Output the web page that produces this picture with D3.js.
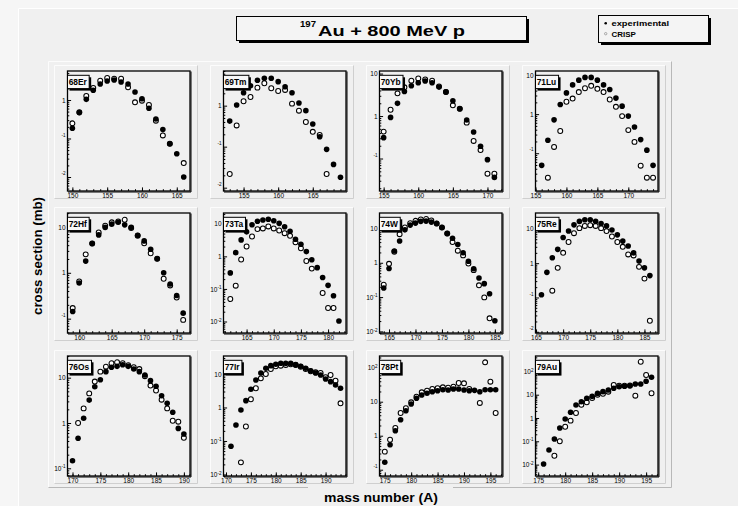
<!DOCTYPE html>
<html>
<head>
<meta charset="utf-8">
<script src="https://cdn.jsdelivr.net/npm/d3@7"></script>
<style>
  body { margin: 0; background: #f0f0f0; }
  svg { display: block; }
  text { font-family: "Liberation Sans", Arial, sans-serif; }
</style>
</head>
<body>
<svg id="chart"></svg>
<script>
var svgWidth = 738;
var svgHeight = 506;

var panelNames = ["68Er", "69Tm", "70Yb", "71Lu", "72Hf", "73Ta", "74W", "75Re", "76Os", "77Ir", "78Pt", "79Au"];

// mass numbers and cross sections (mb): experimental / CRISP
var massEr = [150,151,152,153,154,155,156,157,158,159,160,161,162,163,164,165,166];
var expEr = [0.184,0.47,1.04,1.79,2.6,3.12,3.3,2.94,2.6,1.61,1.08,0.61,0.32,0.17,0.073,0.040,0.010];
var crispEr = [0.248,0.48,1.27,2.05,3.17,3.73,3.57,3.57,2.14,0.87,0.96,0.74,0.29,0.12,0.073,null,0.023];

var massTm = [153,154,155,156,157,158,159,160,161,162,163,164,165,166,167,168,169];
var expTm = [0.42,1.04,2.07,3.07,4.17,4.66,4.66,3.85,2.9,2.07,1.16,0.755,0.358,0.175,0.086,0.037,0.018];
var crispTm = [0.0216,0.33,1.28,1.63,2.75,3.52,2.66,2.28,2.42,1.12,0.755,0.40,0.23,0.193,0.0216,null,null];

var massYb = [155,156,157,158,159,160,161,162,163,164,165,166,167,168,169,170,171];
var expYb = [0.31,0.93,1.99,3.8,5.17,6.1,6.7,6.1,4.8,3.7,2.29,1.49,0.805,0.42,0.194,0.094,0.036];
var crispYb = [0.43,1.41,3.42,4.74,6.8,7.7,7.3,6.8,5.0,3.7,1.79,1.49,0.70,0.26,0.158,0.044,0.044];

var massLu = [156,157,158,159,160,161,162,163,164,165,166,167,168,169,170,171,172,173,174];
var expLu = [0.049,0.215,0.714,1.76,3.5,5.6,7.4,8.7,8.7,7.4,5.6,4.27,2.57,1.6,0.89,0.47,0.223,0.12,0.049];
var crispLu = [null,0.0237,0.145,0.37,2.07,2.5,3.67,4.6,5.3,4.45,3.67,2.37,1.54,0.89,0.39,0.195,0.048,0.0237,0.0237];

var massHf = [159,160,161,162,163,164,165,166,167,168,169,170,171,172,173,174,175,176];
var expHf = [0.143,0.60,1.8,4.34,6.7,9.75,11.5,12.6,11.1,9.75,6.6,4.95,3.25,2.03,1.0,0.57,0.32,0.132];
var crispHf = [0.17,0.65,2.52,4.34,7.57,10.6,12.6,13.2,14.3,9.5,6.4,4.4,2.66,2.03,0.74,0.53,0.29,0.094];

var massTa = [162,163,164,165,166,167,168,169,170,171,172,173,174,175,176,177,178,179,180,181,182];
var expTa = [0.31,1.3,3.2,5.65,9.3,11.9,13.0,13.7,12.4,10.3,8.1,5.9,3.36,2.35,1.4,0.79,0.45,0.224,0.129,0.062,0.0104];
var crispTa = [0.049,0.126,0.8,2.0,4.07,6.85,7.2,8.3,7.2,6.2,5.15,4.26,2.71,1.77,0.72,0.42,null,0.075,0.026,0.026,null];

var massW = [164,165,166,167,168,169,170,171,172,173,174,175,176,177,178,179,180,181,182,183,184,185];
var expW = [0.184,0.68,2.2,4.3,9.1,12.5,14.3,16.1,16.4,15.3,14.0,10.7,7.1,5.2,3.4,1.95,1.11,0.67,0.36,0.246,0.125,0.0205];
var crispW = [0.23,0.93,2.1,6.8,10.7,14.3,16.7,18.4,18.8,17.2,14.0,10.7,7.1,4.0,2.25,1.64,0.95,0.61,0.22,0.098,0.024,null];

var massRe = [166,167,168,169,170,171,172,173,174,175,176,177,178,179,180,181,182,183,184,185,186];
var expRe = [0.12,0.54,1.44,2.53,5.6,8.7,13.1,16.5,18.4,18.4,16.5,14.4,12.2,9.3,6.7,4.4,3.16,2.0,1.15,0.73,0.435];
var crispRe = [null,null,0.158,0.73,2.0,4.15,7.5,10.5,12.2,12.8,12.2,10.5,8.6,6.0,4.15,3.0,1.8,1.68,0.78,0.355,0.021];

var massOs = [170,171,172,173,174,175,176,177,178,179,180,181,182,183,184,185,186,187,188,189,190];
var expOs = [0.147,0.46,1.27,3.2,6.3,9.0,13.6,17.0,17.8,19.3,17.8,15.5,13.6,11.5,8.6,6.45,4.0,2.72,1.72,0.76,0.57];
var crispOs = [null,1.0,2.1,4.5,8.2,13.6,17.5,20.8,21.9,20.8,18.9,17.0,15.5,10.8,6.7,5.2,3.27,2.1,1.12,1.07,0.47];

var massIr = [171,172,173,174,175,176,177,178,179,180,181,182,183,184,185,186,187,188,189,190,191,192,193];
var expIr = [0.0695,0.30,0.84,1.6,3.5,6.6,10.7,14.8,17.7,19.5,20.9,20.9,20.9,19.0,17.0,14.8,12.5,10.7,9.3,7.1,5.9,4.7,3.74];
var crispIr = [null,null,0.023,0.27,1.76,3.74,7.4,10.0,14.1,17.0,17.7,18.6,19.5,18.6,16.5,14.1,12.0,11.2,10.7,8.0,9.3,6.3,1.33];

var massPt = [175,176,177,178,179,180,181,182,183,184,185,186,187,188,189,190,191,192,193,194,195,196];
var expPt = [0.165,0.54,1.4,2.95,5.4,8.6,12.6,15.7,17.7,19.7,21.1,22.5,22.1,23.6,23.6,22.1,21.1,21.6,19.7,22.5,22.5,22.5];
var crispPt = [0.34,0.76,1.68,4.66,6.4,9.6,14.0,18.9,21.1,23.6,24.8,26.5,25.7,27.6,35.5,34.7,23.6,null,9.2,144,38.8,4.66];

var massAu = [176,177,178,179,180,181,182,183,184,185,186,187,188,189,190,191,192,193,194,195,196];
var expAu = [0.0106,0.042,0.126,0.37,0.9,1.76,3.6,5.0,7.0,8.5,11.5,13.5,15.9,18.8,22,22.9,24.3,28.8,28.8,37.6,55.8];
var crispAu = [null,null,0.024,0.1,0.42,0.77,1.64,3.7,4.7,7.2,10,11,13.5,26,24.3,24.3,25,9.1,260,70,11.5];

// axis ranges of each pad (cut = the "10" of negative powers is hidden by the pad edge)
var panels = [
  {mass: massEr, exp: expEr, crisp: crispEr, xDom: [149.3, 166.9], yDom: [0.00433, 5.66], cut: true},
  {mass: massTm, exp: expTm, crisp: crispTm, xDom: [152.1, 169.8], yDom: [0.0083, 7.0], cut: true},
  {mass: massYb, exp: expYb, crisp: crispYb, xDom: [154.4, 172.1], yDom: [0.0172, 11.5], cut: true},
  {mass: massLu, exp: expLu, crisp: crispLu, xDom: [155.0, 174.8], yDom: [0.0108, 12.7], cut: true},
  {mass: massHf, exp: expHf, crisp: crispHf, xDom: [158.2, 177.05], yDom: [0.0487, 20.1], cut: true},
  {mass: massTa, exp: expTa, crisp: crispTa, xDom: [160.75, 183.3], yDom: [0.00444, 21.4], cut: false},
  {mass: massW, exp: expW, crisp: crispW, xDom: [163.2, 186.35], yDom: [0.00898, 28.2], cut: false},
  {mass: massRe, exp: expRe, crisp: crispRe, xDom: [164.9, 187.5], yDom: [0.00922, 29], cut: true},
  {mass: massOs, exp: expOs, crisp: crispOs, xDom: [169.1, 191.1], yDom: [0.0676, 30.1], cut: false},
  {mass: massIr, exp: expIr, crisp: crispIr, xDom: [169.5, 194.1], yDom: [0.0090, 34.4], cut: false},
  {mass: massPt, exp: expPt, crisp: crispPt, xDom: [174.0, 197.2], yDom: [0.0653, 221], cut: true},
  {mass: massAu, exp: expAu, crisp: crispAu, xDom: [174.5, 197.2], yDom: [0.00324, 458], cut: false}
];

var svg = d3.select("#chart")
  .attr("width", svgWidth)
  .attr("height", svgHeight);

function bevel(x, y, w, h, light, dark) {
  svg.append("path")
    .attr("d", `M${x},${y + h}V${y}H${x + w}`)
    .attr("fill", "none").attr("stroke", light).attr("stroke-width", 1);
  svg.append("path")
    .attr("d", `M${x},${y + h}H${x + w}V${y}`)
    .attr("fill", "none").attr("stroke", dark).attr("stroke-width", 1);
}

// canvas + big pad
svg.append("rect").attr("width", svgWidth).attr("height", svgHeight).attr("fill", "#f6f6f6");
svg.append("rect").attr("x", 18).attr("y", 8).attr("width", svgWidth - 18).attr("height", svgHeight - 8).attr("fill", "#f0f0f0");
svg.append("path").attr("d", "M18.5,506V8.5H738").attr("fill", "none").attr("stroke", "#ffffff");

svg.append("path").attr("d", "M48.5,487V61.5H671.5").attr("fill", "none").attr("stroke", "#fcfcfc");
svg.append("path").attr("d", "M671.5,61.5V487.5H453 M308,487.5H48.5").attr("fill", "none").attr("stroke", "#b8b8b8");

// title
svg.append("rect").attr("x", 239).attr("y", 19).attr("width", 290).attr("height", 24).attr("fill", "#000");
svg.append("rect").attr("x", 236.5).attr("y", 16.5).attr("width", 290).attr("height", 24)
  .attr("fill", "#f4f4f4").attr("stroke", "#000").attr("stroke-width", 1);
svg.append("text").attr("x", 300).attr("y", 27)
  .attr("font-size", 9.5).attr("font-weight", "bold")
  .attr("textLength", 16).attr("lengthAdjust", "spacingAndGlyphs")
  .text("197");
svg.append("text").attr("x", 318).attr("y", 36)
  .attr("font-size", 15).attr("font-weight", "bold")
  .attr("textLength", 147).attr("lengthAdjust", "spacingAndGlyphs")
  .text("Au + 800 MeV p");

// legend
svg.append("rect").attr("x", 601).attr("y", 18).attr("width", 110).attr("height", 27).attr("fill", "#000");
svg.append("rect").attr("x", 598.5).attr("y", 15.5).attr("width", 110).attr("height", 27)
  .attr("fill", "#f4f4f4").attr("stroke", "#000").attr("stroke-width", 1);
svg.append("circle").attr("cx", 605.7).attr("cy", 23.3).attr("r", 1.3).attr("fill", "#000");
svg.append("circle").attr("cx", 605.7).attr("cy", 33.7).attr("r", 1.2)
  .attr("fill", "none").attr("stroke", "#888").attr("stroke-width", 0.7);
svg.append("text").attr("x", 611.5).attr("y", 26.2)
  .attr("font-size", 8).attr("font-weight", "bold")
  .attr("textLength", 57.5).attr("lengthAdjust", "spacingAndGlyphs")
  .text("experimental");
svg.append("text").attr("x", 611.5).attr("y", 36.8)
  .attr("font-size", 8).attr("font-weight", "bold")
  .attr("textLength", 24.3).attr("lengthAdjust", "spacingAndGlyphs")
  .text("CRISP");

// axis titles
svg.append("text")
  .attr("transform", "translate(42.3,256)rotate(-90)")
  .attr("text-anchor", "middle")
  .attr("font-size", 12).attr("font-weight", "bold")
  .attr("textLength", 118).attr("lengthAdjust", "spacingAndGlyphs")
  .text("cross section (mb)");

svg.append("text")
  .attr("x", 381).attr("y", 501.5)
  .attr("text-anchor", "middle")
  .attr("font-size", 12).attr("font-weight", "bold")
  .attr("textLength", 114).attr("lengthAdjust", "spacingAndGlyphs")
  .text("mass number (A)");

// pads
var padLeft = [54, 210, 366, 522];
var padTop = [65, 207, 350];
var padW = 143, padH = 133;
var frameW = 122.5, frameH = 120;

panels.forEach(function(p, i) {
  var col = i % 4, row = Math.floor(i / 4);
  var px = padLeft[col], py = padTop[row];
  bevel(px + 0.5, py + 0.5, padW, padH, "#fcfcfc", "#cfcfcf");

  var fx = px + 13.5, fy = py + 6;
  var g = svg.append("g").attr("transform", `translate(${fx},${fy})`);

  var xScale = d3.scaleLinear().domain(p.xDom).range([0, frameW]);
  var yScale = d3.scaleLog().domain(p.yDom).range([frameH, 0]);

  // x axis: majors every 5, minors every 1
  var xMajor = d3.range(Math.ceil(p.xDom[0] / 5) * 5, p.xDom[1], 5);
  var xMinor = d3.range(Math.ceil(p.xDom[0]), p.xDom[1], 1);

  g.append("g")
    .attr("transform", `translate(0,${frameH})`)
    .call(d3.axisBottom(xScale).tickValues(xMinor).tickSize(-1.8).tickFormat(""))
    .call(a => a.select(".domain").remove());

  var xAxisG = g.append("g")
    .attr("transform", `translate(0,${frameH})`)
    .call(d3.axisBottom(xScale).tickValues(xMajor).tickSize(-3.6).tickPadding(2).tickFormat(d3.format("d")));
  xAxisG.select(".domain").remove();
  xAxisG.selectAll("text").attr("font-size", 6.5).attr("fill", "#000").attr("font-family", null);

  // y axis: decades + 2..9 minors
  var kLo = Math.floor(Math.log10(p.yDom[0])), kHi = Math.ceil(Math.log10(p.yDom[1]));
  var yMajor = [], yMinor = [];
  for (var k = kLo; k <= kHi; k++) {
    for (var m = 1; m <= 9; m++) {
      var v = m * Math.pow(10, k);
      if (v < p.yDom[0] || v > p.yDom[1]) continue;
      if (m === 1) yMajor.push(v); else yMinor.push(v);
    }
  }

  g.append("g")
    .call(d3.axisLeft(yScale).tickValues(yMinor).tickSize(-1.8).tickFormat(""))
    .call(a => a.select(".domain").remove());

  var yAxisG = g.append("g")
    .call(d3.axisLeft(yScale).tickValues(yMajor).tickSize(-3.6).tickPadding(2).tickFormat(""));
  yAxisG.select(".domain").remove();
  yAxisG.selectAll(".tick").each(function(d) {
    var e = Math.round(Math.log10(d));
    var t = d3.select(this).select("text")
      .attr("font-size", 6.5).attr("fill", "#000").attr("font-family", null)
      .attr("dy", "0.32em");
    if (e === 0) { t.text("1"); return; }
    if (e === 1) { t.text("10"); return; }
    if (!(p.cut && e < 0)) t.append("tspan").text("10");
    t.append("tspan").attr("font-size", 4.6).attr("dy", "-2.4").text(e);
  });

  // frame
  g.append("rect").attr("width", frameW).attr("height", frameH)
    .attr("fill", "none").attr("stroke", "#000").attr("stroke-width", 1.3);
  g.append("path").attr("d", `M0.5,${frameH + 1}H${frameW + 1}V0.5`)
    .attr("fill", "none").attr("stroke", "#000").attr("stroke-width", 1);

  // markers: CRISP (open) then experimental (filled)
  var crispPts = p.mass.map((a, j) => ({a: a, v: p.crisp[j]})).filter(d => d.v != null);
  var expPts = p.mass.map((a, j) => ({a: a, v: p.exp[j]})).filter(d => d.v != null);

  g.selectAll(".crisp")
    .data(crispPts)
    .enter()
    .append("circle")
    .attr("class", "crisp")
    .attr("cx", d => xScale(d.a))
    .attr("cy", d => yScale(d.v))
    .attr("r", 2.45)
    .attr("fill", "#fff")
    .attr("stroke", "#000")
    .attr("stroke-width", 1.05);

  g.selectAll(".exp")
    .data(expPts)
    .enter()
    .append("circle")
    .attr("class", "exp")
    .attr("cx", d => xScale(d.a))
    .attr("cy", d => yScale(d.v))
    .attr("r", 2.8)
    .attr("fill", "#000");

  // element label box
  var lg = g.append("g");
  var shadow = lg.append("rect")
    .attr("x", 2).attr("y", 6.3).attr("height", 13.3)
    .attr("fill", "#000");
  var box = lg.append("rect")
    .attr("x", 0).attr("y", 4.3).attr("height", 13.3)
    .attr("fill", "#f8f8f8").attr("stroke", "#000").attr("stroke-width", 1);
  var lbl = lg.append("text")
    .attr("x", 1.2).attr("y", 14)
    .attr("font-size", 8.4).attr("font-weight", "bold")
    .text(panelNames[i]);
  var tw = lbl.node().getComputedTextLength();
  shadow.attr("width", tw + 3.5);
  box.attr("width", tw + 3.5);
});
</script>
</body>
</html>
